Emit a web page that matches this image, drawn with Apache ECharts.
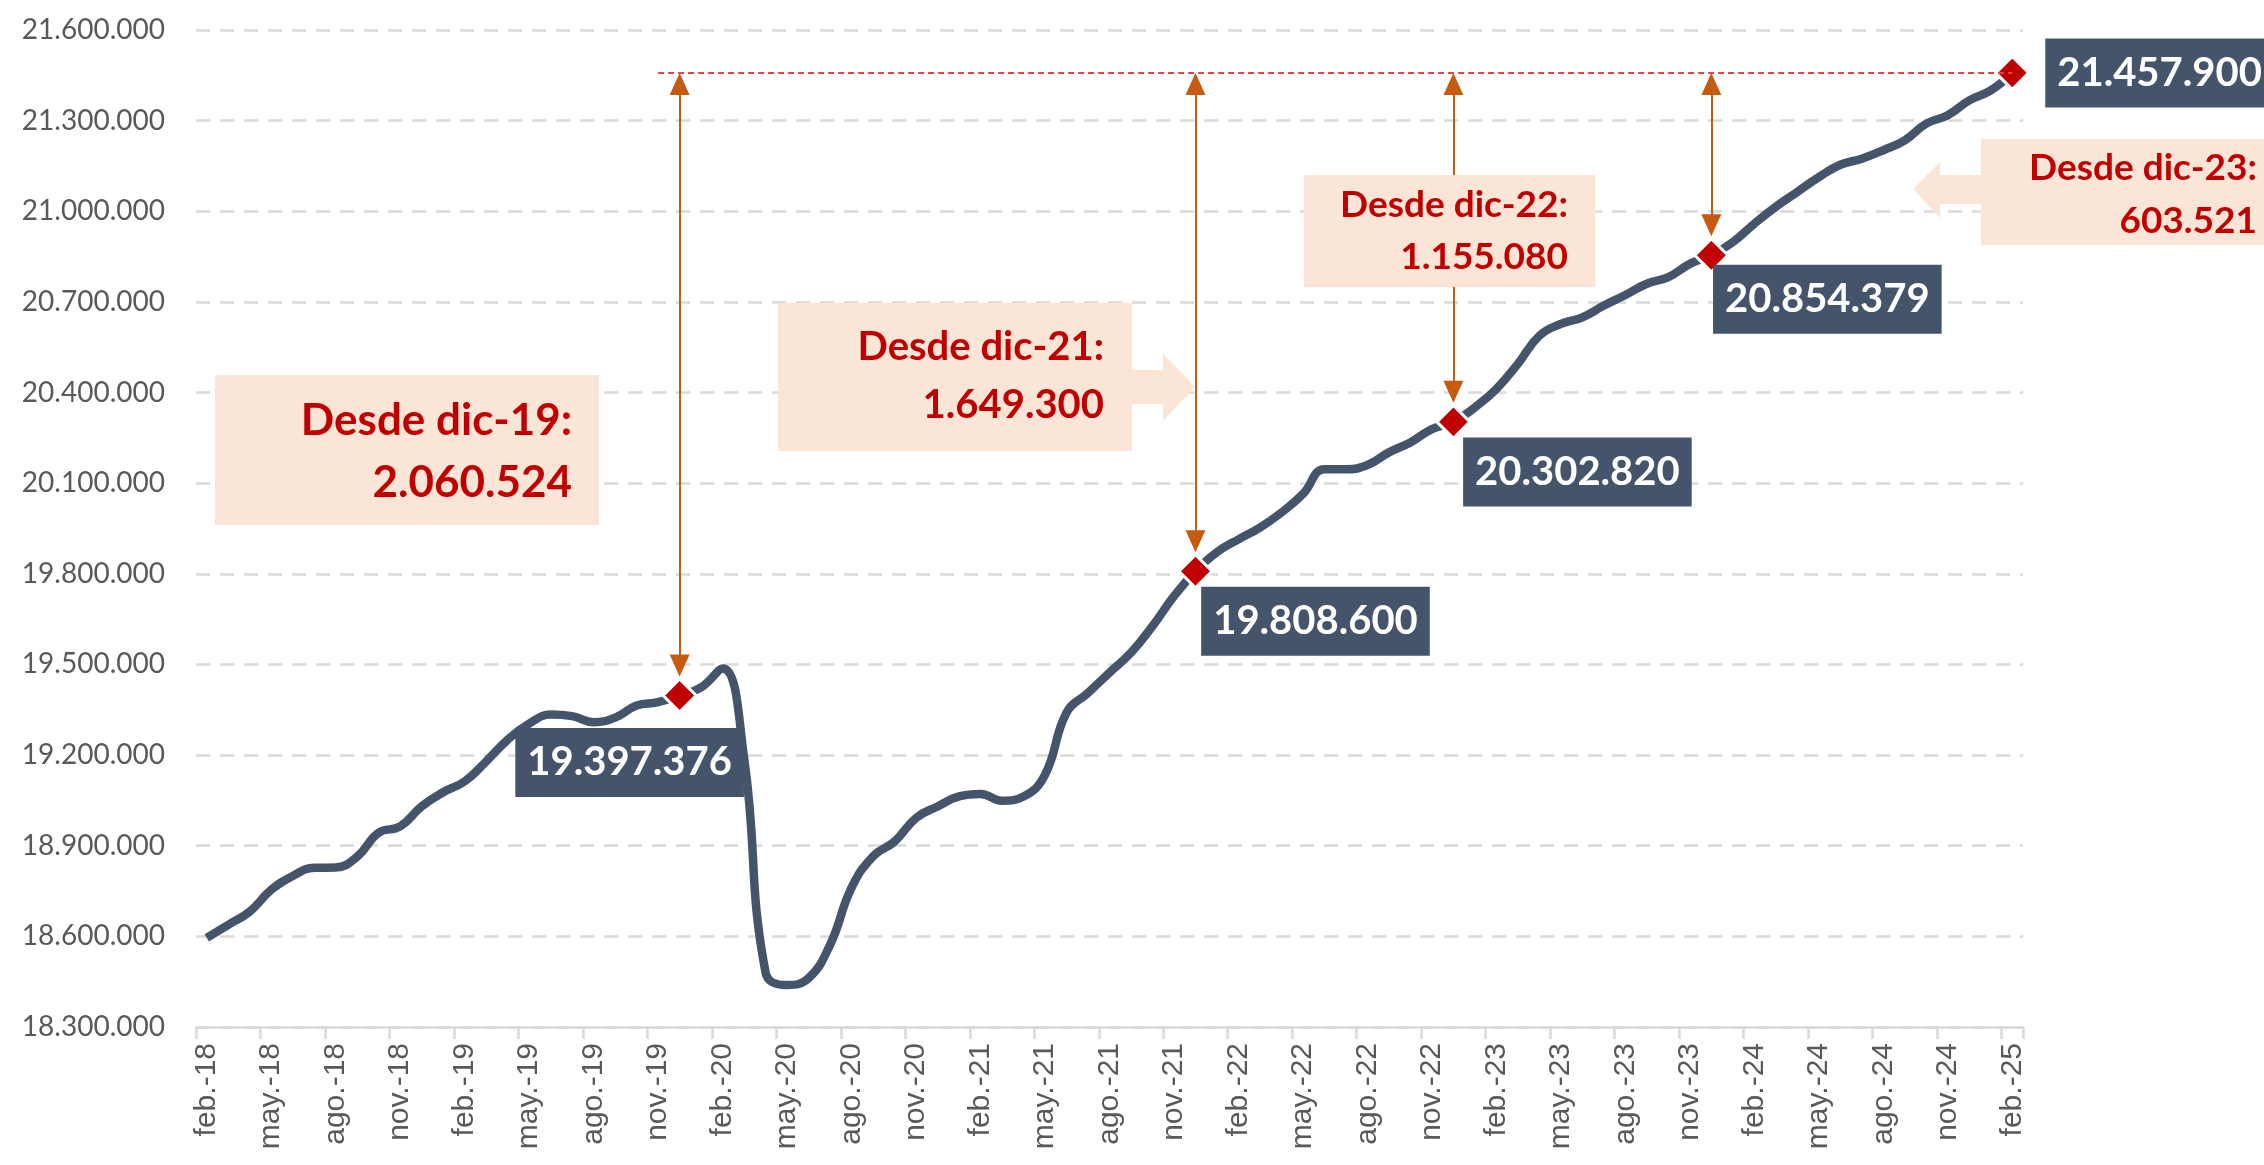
<!doctype html>
<html lang="es">
<head>
<meta charset="UTF-8">
<title>Afiliados</title>
<script src="https://cdn.jsdelivr.net/npm/echarts@6/dist/echarts.min.js"></script>
<style>
    html, body { margin: 0; padding: 0; background: #fff; }
    #container { width: 2264px; height: 1165px; }
</style>
</head>
<body>
<div id="container"></div>
<script>
    // categorias: feb.-18 ... feb.-25
    var meses = ['ene.', 'feb.', 'mar.', 'abr.', 'may.', 'jun.', 'jul.', 'ago.', 'sep.', 'oct.', 'nov.', 'dic.'];
    var categorias = [];
    for (var a = 18; a <= 25; a++) {
        for (var m = 0; m < 12; m++) {
            if (a === 18 && m < 1) continue;
            if (a === 25 && m > 1) continue;
            categorias.push(meses[m] + '-' + a);
        }
    }

    var afiliados = [
        18595000, 18638000, 18682000, 18754000, 18800000, 18827000, 18828000, 18864000, 18943000, 18964000, 19030000,
        19077000, 19113000, 19179000, 19251000, 19304000, 19334000, 19329000, 19309000, 19324000, 19364000, 19375000, 19397376,
        19424000, 19487000, 19190000, 18480000, 18439000, 18462000, 18572000, 18761000, 18865000, 18914000, 18992000, 19030000,
        19063000, 19071000, 19049000, 19063000, 19135000, 19340000, 19406000, 19473000, 19539000, 19627000, 19726000, 19808600,
        19872000, 19914000, 19953000, 20003000, 20064000, 20146000, 20146000, 20160000, 20202000, 20235000, 20279000, 20302820,
        20351000, 20412000, 20495000, 20588000, 20627000, 20649000, 20688000, 20723000, 20760000, 20782000, 20826000, 20854379,
        20898000, 20959000, 21015000, 21064000, 21113000, 21154000, 21174000, 21202000, 21235000, 21290000, 21318000, 21367000,
        21400000, 21457900
    ];

    // diciembres marcados y ultimo dato
    var hitos = [22, 46, 58, 70];
    var ultimo = 84;

    var yMin = 18300000, yMax = 21600000, yStep = 300000;

    function fmt(v) {
        return String(Math.round(v)).replace(/\B(?=(\d{3})+(?!\d))/g, '.');
    }

    var valorFinal = afiliados[ultimo];
    var vpp = yStep / 90.5; // valor por pixel aprox.

    var offsets = [[-50, 67], [120, 50], [124, 50], [116, 44]];

    var serieData = afiliados.map(function (v, i) {
        var k = hitos.indexOf(i);
        if (i === ultimo) {
            return {value: v, symbol: 'diamond', symbolSize: 33,
                label: {show: true, position: 'right', distance: 15}};
        }
        if (k >= 0) {
            return {value: v, symbol: 'diamond', symbolSize: 33,
                label: {show: true, position: 'inside', offset: offsets[k]}};
        }
        return v;
    });

    var lineas = [[
        {coord: [21, valorFinal], symbol: 'none', lineStyle: {color: '#E5414B', width: 2, type: [6, 4]}},
        {coord: [ultimo, valorFinal], symbol: 'none'}
    ]];
    hitos.forEach(function (i) {
        lineas.push([
            {coord: [i, valorFinal - 11 * vpp], symbol: 'triangle', symbolSize: [20, 22]},
            {coord: [i, afiliados[i] + 30 * vpp], symbol: 'triangle', symbolSize: [20, 22]}
        ]);
    });

    var desde = hitos.map(function (i) {
        return 'Desde ' + categorias[i].replace('.', '') + ':\n' + fmt(valorFinal - afiliados[i]);
    });

    var rojo = '#C00000', crema = '#FBE5D6';

    var dom = document.getElementById('container');
    var myChart = echarts.init(dom);
    var option = {
        animation: false,
        backgroundColor: '#fff',
        grid: {left: 196, right: 241, top: 30, bottom: 138},
        xAxis: {
            type: 'category',
            data: categorias,
            boundaryGap: true,
            axisLine: {lineStyle: {color: '#D9D9D9', width: 2.5}},
            axisTick: {show: true, interval: 2, length: 12, lineStyle: {color: '#D9D9D9', width: 2.5}},
            axisLabel: {interval: 2, rotate: 90, margin: 16, color: '#595959', fontSize: 30, fontFamily: 'Liberation Sans'},
            splitLine: {show: false}
        },
        yAxis: {
            type: 'value',
            min: yMin,
            max: yMax,
            interval: yStep,
            axisLine: {show: false},
            axisTick: {show: false},
            axisLabel: {margin: 31, color: '#595959', fontSize: 28, fontFamily: 'Lato', formatter: fmt},
            splitLine: {lineStyle: {color: '#D9D9D9', width: 2.5, type: [14, 10]}}
        },
        series: [{
            type: 'line',
            data: serieData,
            smooth: 0.45,
            symbol: 'none',
            showAllSymbol: true,
            lineStyle: {color: '#44546A', width: 8.5},
            itemStyle: {color: rojo, borderColor: '#fff', borderWidth: 3},
            label: {
                show: false,
                formatter: function (p) { return fmt(p.value); },
                backgroundColor: '#44546A',
                color: '#fff',
                fontFamily: 'Lato',
                fontWeight: 'bold',
                fontSize: 40,
                lineHeight: 48,
                padding: [11, 12, 10, 12]
            },
            emphasis: {disabled: true},
            markLine: {
                silent: true,
                animation: false,
                label: {show: false},
                emphasis: {disabled: true},
                lineStyle: {color: '#C55A11', width: 2, type: 'solid'},
                data: lineas
            }
        }],
        graphic: [
            {type: 'rect', z: 100, shape: {x: 215, y: 375, width: 384, height: 150}, style: {fill: crema}},
            {type: 'text', z: 101, x: 572, y: 452, style: {text: desde[0], fill: rojo, font: 'bold 44px Lato',
                    align: 'right', verticalAlign: 'middle', lineHeight: 62}},

            {type: 'polygon', z: 100, shape: {points: [[778, 303], [1132, 303], [1132, 370], [1163, 370], [1163, 354],
                        [1195, 387], [1163, 421], [1163, 404], [1132, 404], [1132, 451], [778, 451]]}, style: {fill: crema}},
            {type: 'text', z: 101, x: 1104, y: 376, style: {text: desde[1], fill: rojo, font: 'bold 40px Lato',
                    align: 'right', verticalAlign: 'middle', lineHeight: 58}},

            {type: 'rect', z: 100, shape: {x: 1304, y: 175, width: 291, height: 112}, style: {fill: crema}},
            {type: 'text', z: 101, x: 1568, y: 231, style: {text: desde[2], fill: rojo, font: 'bold 37px Lato',
                    align: 'right', verticalAlign: 'middle', lineHeight: 52}},

            {type: 'polygon', z: 100, shape: {points: [[1981, 139], [2290, 139], [2290, 245], [1981, 245], [1981, 204],
                        [1940, 204], [1940, 218], [1913, 189], [1940, 162], [1940, 175], [1981, 175]]}, style: {fill: crema}},
            {type: 'text', z: 101, x: 2257, y: 195, style: {text: desde[3], fill: rojo, font: 'bold 37px Lato',
                    align: 'right', verticalAlign: 'middle', lineHeight: 53}}
        ]
    };
    myChart.setOption(option, true);
</script>
</body>
</html>
